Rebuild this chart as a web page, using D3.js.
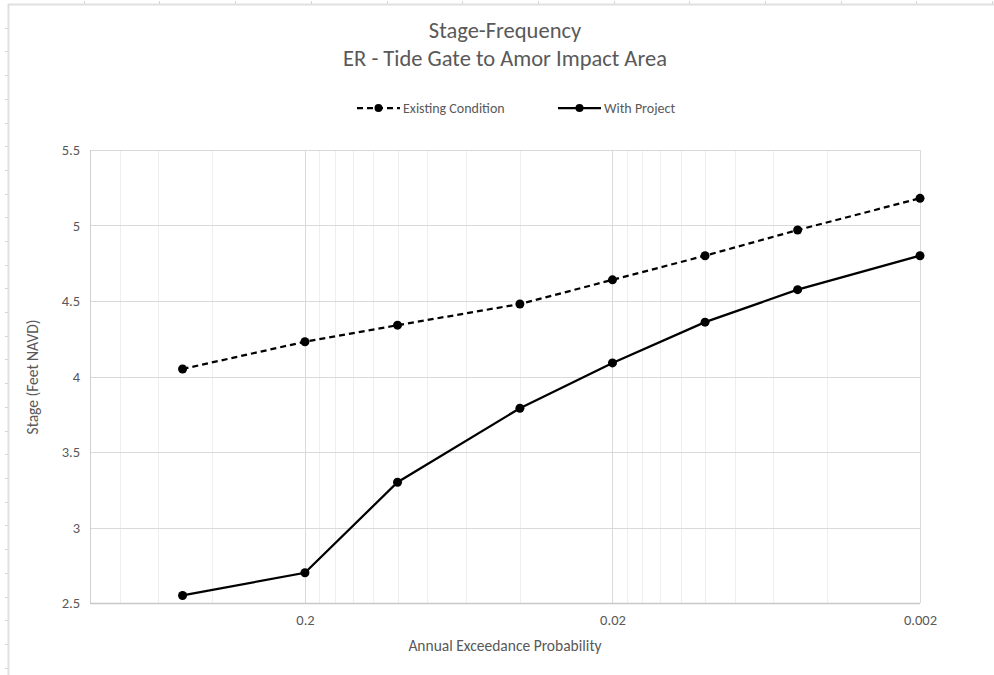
<!DOCTYPE html>
<html>
<head>
<meta charset="utf-8">
<script src="https://cdn.jsdelivr.net/npm/d3@7"></script>
<style>
  body { margin: 0; background: #fff; }
  text { font-family: Carlito, Calibri, Lato, sans-serif; }
</style>
</head>
<body>
<script>
// data
const aep = [0.5, 0.2, 0.1, 0.04, 0.02, 0.01, 0.005, 0.002];
const existing = [4.05, 4.23, 4.34, 4.48, 4.64, 4.80, 4.97, 5.18];
const withProject = [2.55, 2.70, 3.30, 3.79, 4.09, 4.36, 4.575, 4.80];
const xTicks = [0.2, 0.02, 0.002];
const yTicks = [2.5, 3, 3.5, 4, 4.5, 5, 5.5];
const decades = [0.002, 0.02, 0.2];

const W = 994, H = 675;
const svg = d3.select("body").append("svg")
    .attr("width", W)
    .attr("height", H);

// chart frame + spreadsheet cell ticks
svg.append("rect").attr("width", W).attr("height", H).attr("fill", "white");
svg.append("line").attr("x1", 8).attr("x2", W).attr("y1", 4.5).attr("y2", 4.5)
    .attr("stroke", "#e0e0e0").attr("stroke-width", 2);
svg.append("line").attr("x1", 8.5).attr("x2", 8.5).attr("y1", 4).attr("y2", H)
    .attr("stroke", "#e0e0e0").attr("stroke-width", 2);
for (let x = 8 + 75.7; x < W; x += 75.7) {
  svg.append("line").attr("x1", Math.round(x) + 0.5).attr("x2", Math.round(x) + 0.5)
      .attr("y1", 1).attr("y2", 4).attr("stroke", "#d6d6d6");
}
for (let y = 4 + 23.7; y < H; y += 23.7) {
  svg.append("line").attr("x1", 5).attr("x2", 8).attr("y1", Math.round(y) + 0.5)
      .attr("y2", Math.round(y) + 0.5).attr("stroke", "#d6d6d6");
}

const x = d3.scaleLog().domain([1, 0.002]).range([90, 920]);
const y = d3.scaleLinear().domain([2.5, 5.5]).range([603, 150]);

// minor vertical gridlines
let minor = [];
decades.forEach(b => { for (let k = 2; k <= 9; k++) if (b * k < 1) minor.push(b * k); });
svg.append("g").selectAll("line").data(minor).join("line")
    .attr("x1", d => Math.round(x(d)) + 0.5).attr("x2", d => Math.round(x(d)) + 0.5)
    .attr("y1", y(5.5)).attr("y2", y(2.5))
    .attr("stroke", "#eeeeee");

// major horizontal gridlines
svg.append("g").selectAll("line").data(yTicks).join("line")
    .attr("x1", x(1)).attr("x2", x(0.002))
    .attr("y1", d => Math.round(y(d)) + 0.5).attr("y2", d => Math.round(y(d)) + 0.5)
    .attr("stroke", "#d9d9d9");

// major vertical gridlines
svg.append("g").selectAll("line").data(xTicks).join("line")
    .attr("x1", d => Math.round(x(d)) + 0.5).attr("x2", d => Math.round(x(d)) + 0.5)
    .attr("y1", y(5.5)).attr("y2", y(2.5))
    .attr("stroke", "#d9d9d9");

// value axis line (left) and category axis line (bottom)
svg.append("line").attr("x1", 90.5).attr("x2", 90.5).attr("y1", y(5.5)).attr("y2", y(2.5))
    .attr("stroke", "#d0d0d0");
svg.append("line").attr("x1", 90).attr("x2", 920).attr("y1", 603.5).attr("y2", 603.5)
    .attr("stroke", "#c8c8c8").attr("stroke-width", 1.5);

// axes labels
const yAxis = svg.append("g")
    .attr("transform", "translate(83,0)")
    .call(d3.axisLeft(y).tickValues(yTicks).tickSize(0).tickFormat(d3.format("")));
yAxis.select(".domain").remove();
yAxis.selectAll("text").attr("fill", "#595959").attr("font-size", 14.5);

const xAxis = svg.append("g")
    .attr("transform", "translate(0,612)")
    .call(d3.axisBottom(x).tickValues(xTicks).tickSize(0).tickFormat(d => d));
xAxis.select(".domain").remove();
xAxis.selectAll("text").attr("fill", "#595959").attr("font-size", 14.5);

svg.append("text").attr("x", 505).attr("y", 651).attr("text-anchor", "middle")
    .attr("fill", "#595959").attr("font-size", 15.5).text("Annual Exceedance Probability");
svg.append("text").attr("transform", "translate(38,377) rotate(-90)").attr("text-anchor", "middle")
    .attr("fill", "#595959").attr("font-size", 15.5).text("Stage (Feet NAVD)");

// title
svg.append("text").attr("x", 505).attr("y", 38).attr("text-anchor", "middle")
    .attr("fill", "#595959").attr("font-size", 22.5).text("Stage-Frequency");
svg.append("text").attr("x", 505).attr("y", 66).attr("text-anchor", "middle")
    .attr("fill", "#595959").attr("font-size", 22.5).text("ER - Tide Gate to Amor Impact Area");

// series
const series = [
  {name: "Existing Condition", values: existing, dash: "6,4", lx: 357},
  {name: "With Project", values: withProject, dash: null, lx: 558}
];
const line = d3.line().x(d => x(d[0])).y(d => y(d[1]));

series.forEach(s => {
  const pts = aep.map((a, i) => [a, s.values[i]]);
  svg.append("path").datum(pts)
      .attr("d", line)
      .attr("fill", "none")
      .attr("stroke", "black")
      .attr("stroke-width", 2.25)
      .attr("stroke-dasharray", s.dash);
  svg.append("g").selectAll("circle").data(pts).join("circle")
      .attr("cx", d => x(d[0])).attr("cy", d => y(d[1])).attr("r", 4.5)
      .attr("fill", "black");

  // legend
  const ly = 108;
  svg.append("line").attr("x1", s.lx).attr("x2", s.lx + 43).attr("y1", ly).attr("y2", ly)
      .attr("stroke", "black").attr("stroke-width", 2.25).attr("stroke-dasharray", s.dash);
  svg.append("circle").attr("cx", s.lx + 21.5).attr("cy", ly).attr("r", 4).attr("fill", "black");
  svg.append("text").attr("x", s.lx + 46).attr("y", ly + 5).attr("fill", "#595959")
      .attr("font-size", 14).text(s.name);
});
</script>
</body>
</html>
